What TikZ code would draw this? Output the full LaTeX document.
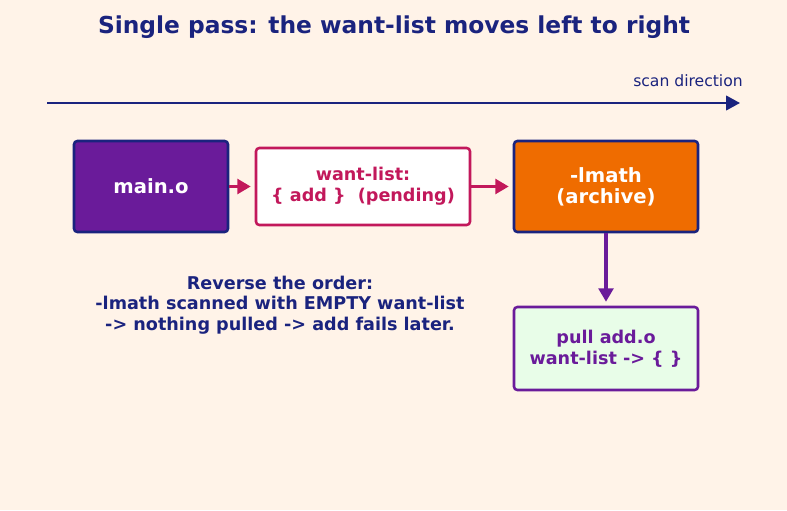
\documentclass[tikz,border=0pt]{standalone}
\usepackage{fontspec}
\setmainfont{DejaVu Sans}
\usetikzlibrary{arrows.meta, positioning}
\definecolor{creambg}{HTML}{FFF3E8}
\definecolor{navyblue}{HTML}{1A237E}
\definecolor{crimsonred}{HTML}{C2185B}
\definecolor{deeppurple}{HTML}{6A1B9A}
\definecolor{burntorange}{HTML}{EF6C00}
\definecolor{mintgreen}{HTML}{E8FDE8}

\begin{document}
\begin{tikzpicture}[x=0.75pt, y=-0.75pt,
    box/.style={rectangle, rounded corners=2.5pt, line width=1.9pt, align=center, inner sep=0pt,
                font=\bfseries\fontsize{13.2}{15.5}\selectfont},
    flow/.style={-{Triangle[length=10pt, width=11pt]}, line width=2.4pt, shorten >=3pt}]
      \fill[creambg] (0,0) rectangle (787,510);
      \useasboundingbox (0,0) rectangle (787,510);

      \node[font=\bfseries\fontsize{17.5}{20}\selectfont, text=navyblue] (title) at (394,27.5)
            {Single pass: the want-list moves left to right};

      % scan direction
      \coordinate (scanstart) at (47,103);
      \coordinate (scanend) at (740,103);
      \draw[navyblue, line width=1.6pt, -{Triangle[length=10.5pt, width=11pt]}] (scanstart) -- (scanend);
      \node[anchor=east, font=\fontsize{11.7}{14}\selectfont, text=navyblue, inner sep=0pt] (scanlabel) at (743,81)
            {scan direction};

      \node[box, fill=deeppurple, draw=navyblue, text=white, minimum width=115.5pt, minimum height=68.25pt,
            font=\bfseries\fontsize{14.7}{15.8}\selectfont] (maino) at (151,186.5)
            {main.o};
      \node[box, fill=white, draw=crimsonred, text=crimsonred, minimum width=160.5pt, minimum height=57.75pt] (wantlist) at (363,186.5)
            {want-list:\\\{ add \}\ \ (pending)};
      \node[box, fill=burntorange, draw=navyblue, text=white, minimum width=138pt, minimum height=68.25pt,
            font=\bfseries\fontsize{14.7}{15.8}\selectfont] (lmath) at (606,186.5)
            {-lmath\\(archive)};
      \node[box, fill=mintgreen, draw=deeppurple, text=deeppurple, minimum width=138pt, minimum height=62.25pt] (pull) at (606,348.5)
            {pull add.o\\want-list -> \{ \}};

      \draw[flow, crimsonred] (maino) -- (wantlist);
      \draw[flow, crimsonred] (wantlist) -- (lmath);
      \draw[flow, deeppurple] (lmath) -- (pull);

      \node[align=center, font=\bfseries\fontsize{13.2}{15.4}\selectfont, text=navyblue] (note) at (280,305)
            {Reverse the order:\\-lmath scanned with EMPTY want-list\\-> nothing pulled -> add fails later.};
\end{tikzpicture}
\end{document}
